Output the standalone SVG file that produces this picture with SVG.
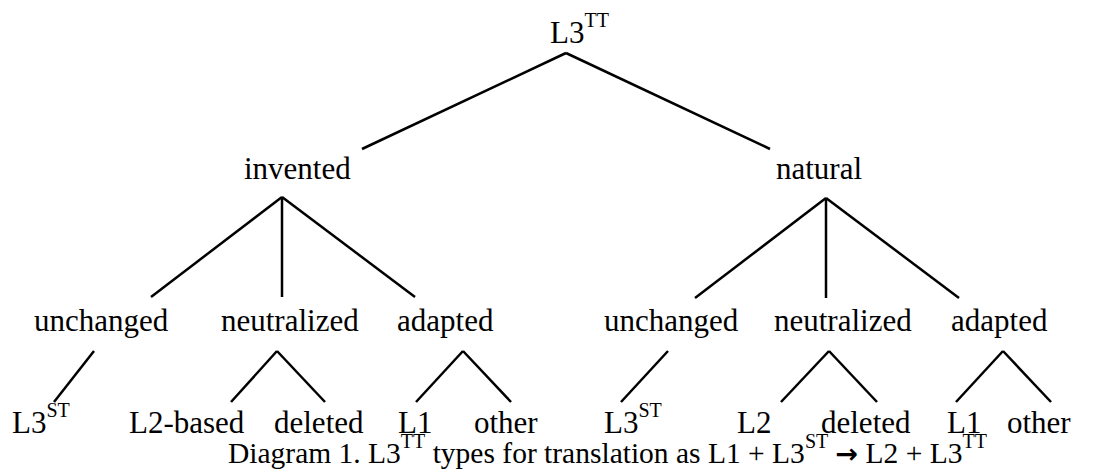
<svg xmlns="http://www.w3.org/2000/svg" width="1095" height="474" viewBox="0 0 1095 474">
<style>
.t{font-family:'Liberation Serif','DejaVu Serif',serif;font-size:31px;fill:#000}
.cap{font-size:29.5px}
.sup{font-size:20px}
.arr{font-family:'DejaVu Sans',sans-serif;font-weight:bold;font-size:27px}
#connectors line{stroke:#000;stroke-width:2.5;stroke-linecap:butt}
</style>
<rect width="1095" height="474" fill="#fff"/>
<g id="connectors">
<line x1="566" y1="53" x2="362" y2="149"/>
<line x1="566" y1="53" x2="770" y2="149"/>
<line x1="282" y1="197" x2="151" y2="297"/>
<line x1="282" y1="197" x2="282" y2="297"/>
<line x1="282" y1="197" x2="415" y2="297"/>
<line x1="826" y1="198" x2="695" y2="298"/>
<line x1="826" y1="198" x2="826" y2="298"/>
<line x1="826" y1="198" x2="959" y2="298"/>
<line x1="94" y1="351" x2="54" y2="402"/>
<line x1="277" y1="351" x2="231" y2="402"/>
<line x1="277" y1="351" x2="325" y2="402"/>
<line x1="463" y1="351" x2="416" y2="402"/>
<line x1="463" y1="351" x2="511" y2="402"/>
<line x1="668" y1="351" x2="621" y2="402"/>
<line x1="829" y1="351" x2="781" y2="402"/>
<line x1="829" y1="351" x2="877" y2="402"/>
<line x1="1003" y1="351" x2="956" y2="402"/>
<line x1="1003" y1="351" x2="1051" y2="402"/>
</g>
<g font-family="'Liberation Serif', 'DejaVu Serif', serif">
<g id="root"><text class="t" x="550" y="43">L3<tspan class="sup" dy="-16">TT</tspan></text></g>
<g id="invented"><text class="t" x="244" y="179">invented</text></g>
<g id="natural"><text class="t" x="776" y="179">natural</text></g>
<g id="inv-unchanged"><text class="t" x="34" y="331">unchanged</text></g>
<g id="inv-neutralized"><text class="t" x="221" y="331">neutralized</text></g>
<g id="inv-adapted"><text class="t" x="397" y="331">adapted</text></g>
<g id="nat-unchanged"><text class="t" x="604" y="331">unchanged</text></g>
<g id="nat-neutralized"><text class="t" x="774" y="331">neutralized</text></g>
<g id="nat-adapted"><text class="t" x="951" y="331">adapted</text></g>
<g id="inv-l3st"><text class="t" x="12" y="433">L3<tspan class="sup" dy="-16">ST</tspan></text></g>
<g id="inv-l2based"><text class="t" x="129" y="433">L2-based</text></g>
<g id="inv-deleted"><text class="t" x="274" y="433">deleted</text></g>
<g id="inv-l1"><text class="t" x="398" y="433">L1</text></g>
<g id="inv-other"><text class="t" x="474" y="433">other</text></g>
<g id="nat-l3st"><text class="t" x="604" y="433">L3<tspan class="sup" dy="-16">ST</tspan></text></g>
<g id="nat-l2"><text class="t" x="737" y="433">L2</text></g>
<g id="nat-deleted"><text class="t" x="821" y="433">deleted</text></g>
<g id="nat-l1"><text class="t" x="947" y="433">L1</text></g>
<g id="nat-other"><text class="t" x="1007" y="433">other</text></g>
<g id="caption"><text class="t cap" x="228" y="463">Diagram 1. L3<tspan class="sup" dy="-15">TT</tspan><tspan dy="15"> types for translation as L1 + L3</tspan><tspan class="sup" dy="-15">ST</tspan><tspan dy="15"> </tspan><tspan class="arr">→</tspan><tspan> L2 + L3</tspan><tspan class="sup" dy="-15">TT</tspan></text></g>
</g>
</svg>
